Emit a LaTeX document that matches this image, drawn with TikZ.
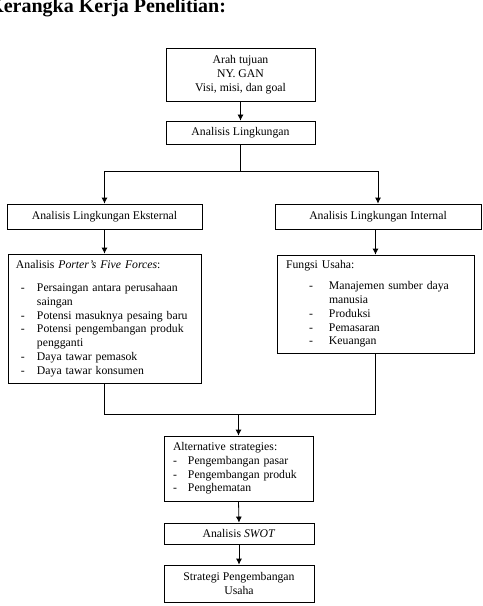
\documentclass[tikz,border=0pt]{standalone}
\usepackage{fontspec}
\setmainfont{Liberation Serif}
\usepackage{tikz}
\usetikzlibrary{arrows.meta}

\newcommand{\dashitem}[3]{\hspace*{#1}\makebox[#2][l]{-}#3}

\begin{document}
\begin{tikzpicture}[x=0.75pt,y=0.75pt,yscale=-1,xscale=1,
  box/.style={draw,line width=0.6pt,inner sep=0pt,font=\fontsize{8.8}{10.3}\selectfont},
  flow/.style={line width=0.6pt,-{Latex[length=4.5pt,width=4.5pt]}}]
\useasboundingbox (0,0) rectangle (482,606);
\draw (-12,13) node[anchor=base west,inner sep=0pt,font=\fontsize{15}{18}\selectfont\bfseries] (judul) {Kerangka Kerja Penelitian:};
\draw (240.5,74.5) node[box,minimum width=111.75pt,minimum height=39.75pt,align=center] (tujuan) {Arah tujuan\\NY. GAN\\Visi, misi, dan goal};
\draw (240.5,132.5) node[box,minimum width=111.75pt,minimum height=17.25pt] (lingk) {Analisis Lingkungan};
\draw (104.5,216.5) node[box,minimum width=146.25pt,minimum height=18.75pt] (ekst) {Analisis Lingkungan Eksternal};
\draw (378,216.5) node[box,minimum width=154.5pt,minimum height=18.75pt] (intern) {Analisis Lingkungan Internal};
\draw (104.5,318.5) node[box,minimum width=144.75pt,minimum height=96.75pt,inner xsep=6pt,text width=132.75pt,align=left] (porter) {Analisis \textit{Porter's Five Forces}:\\[7pt]
\dashitem{3.75pt}{12pt}{Persaingan antara perusahaan}\\
\hspace*{15.75pt}saingan\\
\dashitem{3.75pt}{12pt}{Potensi masuknya pesaing baru}\\
\dashitem{3.75pt}{12pt}{Potensi pengembangan produk}\\
\hspace*{15.75pt}pengganti\\
\dashitem{3.75pt}{12pt}{Daya tawar pemasok}\\
\dashitem{3.75pt}{12pt}{Daya tawar konsumen}};
\draw (375.5,304) node[box,minimum width=147.75pt,minimum height=73.5pt,inner xsep=6.75pt,text width=134.25pt,align=left] (fungsi) {Fungsi Usaha:\\[5.5pt]
\dashitem{17.25pt}{15pt}{Manajemen sumber daya}\\
\hspace*{32.25pt}manusia\\
\dashitem{17.25pt}{15pt}{Produksi}\\
\dashitem{17.25pt}{15pt}{Pemasaran}\\
\dashitem{17.25pt}{15pt}{Keuangan}};
\draw (238.5,468.5) node[box,minimum width=111.75pt,minimum height=48.75pt,inner xsep=6.75pt,text width=98.25pt,align=left] (alt) {Alternative strategies:\\
\dashitem{0pt}{11.25pt}{Pengembangan pasar}\\
\dashitem{0pt}{11.25pt}{Pengembangan produk}\\
\dashitem{0pt}{11.25pt}{Penghematan}};
\draw (239,533.5) node[box,minimum width=112.5pt,minimum height=15.75pt] (swot) {Analisis \textit{SWOT}};
\draw (239,583.5) node[box,minimum width=112.5pt,minimum height=27.75pt,align=center] (strategi) {Strategi Pengembangan\\Usaha};
% panah
\draw[flow] (tujuan.south) -- (lingk.north);
\draw[line width=0.6pt] (lingk.south) -- ++(0,27) coordinate (cabang);
\draw[flow] (cabang) -| (ekst.north);
\draw[flow] (cabang) -| (intern.north);
\draw[flow] (ekst.south) -- (porter.north);
\draw[flow] (fungsi.north |- intern.south) -- (fungsi.north);
\draw[line width=0.6pt] (porter.south) -- ++(0,31) coordinate (gabung) -| (fungsi.south);
\draw[flow] (gabung -| alt.north) -- (alt.north);
\draw[flow] (alt.south) -- (swot.north);
\draw[flow] (swot.south) -- (strategi.north);
\end{tikzpicture}
\end{document}
